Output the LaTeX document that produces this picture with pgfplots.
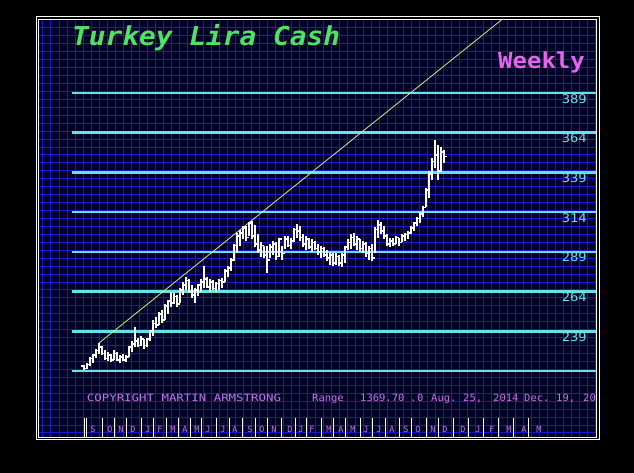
\documentclass[border=0pt]{standalone}
\usepackage{pgfplots}
\pgfplotsset{compat=1.18}
\usepackage{pgfplotstable}
\usepackage{fontspec}
\newfontfamily\mono{DejaVu Sans Mono}

\definecolor{navybg}{RGB}{0,0,40}
\definecolor{gridblue}{RGB}{24,24,210}
\definecolor{lcyan}{RGB}{100,226,232}
\definecolor{tgreen}{RGB}{80,226,100}
\definecolor{wmag}{RGB}{232,100,240}
\definecolor{cmag}{RGB}{200,112,232}
\definecolor{diag}{RGB}{200,240,140}

% weekly bars: x position, low, high, open, close
\pgfplotstableread{
x lo hi op cl
84 214.5 218 217 215.5
87 215 219 215.5 218
90 217 223 218 222
93 219 225 222 224
96 222 228 224 227
99 225 231.5 227 229
102 224 230 229 225
105 221 227 225 222
108 220 226 222 224
111 219.5 225 224 221
114 221 227 221 225
117 220 226 225 221
120 219 224 221 223
123 220 225 223 221
126 219.5 224 221 223
129 223 230 223 229
132 226 233 229 231
135 229 241.7 231 233
138 229 235 233 230
141 230 236 230 234
144 228 234 234 230
147 229 235 230 234
150 233 240 234 239
153 236 246 239 244
156 241 248 244 243
159 243 251 243 250
162 244 252.5 250 246
165 246 256 246 255
168 250 259 255 258
171 254 264 258 257
174 256 263 257 261
177 254 262 261 256
180 257 266 256 265
183 262 270 265 268
186 265 273 268 271
189 263 272 271 264
192 260 268 264 262
195 256.8 266 262 265
198 261 269 265 268
201 264 272 268 270
204 266 280 270 272
207 266 273 272 267
210 264 272 267 270
213 265 271 270 266
216 264 270 266 269
219 265 272 269 271
222 266 272.5 271 270
225 270 278 270 277
228 273 280 277 279
231 277 285 279 284
234 283 294 284 293
237 288 301 293 299
240 293 303 299 301
243 297 305 301 304
246 296 305 304 298
249 299 308 298 307
252 297 308.5 307 299
255 292 306 299 294
258 288 300 294 290
261 286 295 290 293
264 285 293 293 287
267 276 293 287 284
270 285 294 284 292
273 287 296 292 294
276 284 295 294 286
279 286 298 286 297
282 284 293 297 288
285 291 299 288 297
288 292 299 297 293
291 291 298 293 296
294 295 304 296 303
297 298 306.5 303 302
300 296 305 302 298
303 292 300 298 294
306 290 299 294 297
309 291 298 297 292
312 289 297 292 295
315 290 296 295 291
318 287 294 291 289
321 285 293 289 291
324 286 292 291 287
327 283 290 287 285
330 281 289 285 287
333 280 288 287 282
336 281 288 282 286
339 280 287 286 282
342 279.5 288 282 287
345 282 293 287 292
348 290 297 292 295
351 291 300 295 298
354 293 301 298 294
357 290 299 294 297
360 289 297 297 291
363 288 296 291 294
366 286 295 294 288
369 284 293 288 291
372 283 294 291 285
375 288 304.7 285 303
378 298 309 303 306
381 300 308 306 302
384 297 305 302 299
387 293 300 299 294
390 292 298 294 296
393 293 298 296 294
396 294 299 294 298
399 293 298 298 295
402 295 300 295 299
405 296 301 299 300
408 297 302 300 301
411 300 305 301 304
414 302 308 304 307
417 305 311 307 310
420 307 314 310 313
423 311 318 313 317
426 317 329 317 328
429 323 340 328 338
432 334 348 338 346
435 342 359.4 346 350
438 334 356 350 340
441 339 355 340 352
444 345 353 352 349
}\bars

\begin{document}
\begin{tikzpicture}
\begin{scope}[x=1pt,y=-1pt]
  \fill[black] (0,0) rectangle (634,473);
\end{scope}

\begin{axis}[
  at={(39pt,-437pt)}, anchor=south west,
  scale only axis, width=557pt, height=417.5pt,
  xmin=39, xmax=596, ymin=172.46, ymax=435.27,
  axis background/.style={fill=navybg},
  axis line style={draw=none},
  xtick={43,51,...,595}, ytick={175,180,...,435},
  xticklabel={}, yticklabel={},
  major tick length=0pt,
  grid=major,
  major grid style={gridblue, line width=1pt},
]
% level lines
\addplot[lcyan, line width=2.5pt] coordinates {(72,389) (596,389)};
\addplot[lcyan, line width=2.5pt] coordinates {(72,364) (596,364)};
\addplot[lcyan, line width=2.5pt] coordinates {(72,339) (596,339)};
\addplot[lcyan, line width=2.5pt] coordinates {(72,314) (596,314)};
\addplot[lcyan, line width=2.5pt] coordinates {(72,289) (596,289)};
\addplot[lcyan, line width=2.5pt] coordinates {(72,264) (596,264)};
\addplot[lcyan, line width=2.5pt] coordinates {(72,239) (596,239)};
\addplot[lcyan, line width=2.5pt] coordinates {(72,214) (596,214)};

% trend line
\addplot[diag, line width=0.8pt] coordinates {(99,231.6) (502,435.3)};

% high-low bars
\addplot[draw=none, mark=none, error bars/.cd, y dir=plus, y explicit,
  error mark=none, error bar style={draw=white, line width=2.3pt}]
  table[x=x, y=lo, y error expr=\thisrow{hi}-\thisrow{lo}] {\bars};
% open ticks
\addplot[draw=none, mark=none, error bars/.cd, x dir=minus, x fixed=2.6,
  error mark=none, error bar style={draw=white, line width=1.6pt}]
  table[x=x, y=op] {\bars};
% close ticks
\addplot[draw=none, mark=none, error bars/.cd, x dir=plus, x fixed=2.6,
  error mark=none, error bar style={draw=white, line width=1.6pt}]
  table[x=x, y=cl] {\bars};

\foreach \v in {389,364,339,314,289,264,239}{
  \edef\temp{\noexpand\node[anchor=base east, text=lcyan, inner sep=0pt,
    font=\noexpand\mono\noexpand\fontsize{12}{12}\noexpand\selectfont, yshift=-10pt]
    at (axis cs:587,\v) {\noexpand\scalebox{1.15}[1]{\v}};}
  \temp
}
\end{axis}

\begin{scope}[x=1pt,y=-1pt]
  \draw[white, line width=1pt] (36,17) rectangle (599,439);
  \draw[white, line width=1pt] (38.5,19.5) rectangle (596.5,437);

  \node[anchor=base west, inner sep=0pt, text=tgreen,
    font=\mono\bfseries\itshape\fontsize{26}{26}\selectfont]
    at (72,46) {\scalebox{1.07}[1]{Turkey Lira Cash}};
  \node[anchor=base west, inner sep=0pt, text=wmag,
    font=\mono\bfseries\fontsize{22}{22}\selectfont]
    at (498,69) {\scalebox{1.09}[1]{Weekly}};

  \node[anchor=base west, inner sep=0pt, text=cmag,
    font=\mono\fontsize{10}{10}\selectfont]
    at (86.7,401) {\scalebox{1.24}[1]{COPYRIGHT MARTIN ARMSTRONG}};
  \foreach \x/\t in {312/Range,360/1369.70,410/.,417/0,431/Aug.,463/{25,},493/2014,524/Dec.,556/{19,},583/20}
    \node[anchor=base west, inner sep=0pt, text=cmag,
      font=\mono\fontsize{10}{10}\selectfont] at (\x,401) {\scalebox{1.05}[1]{\t}};

  \foreach \x in {84.3,86.7,102.7,114.3,126,141.7,153.3,166,178.3,190,201.7,216.7,229.3,242.7,255,267.7,281.7,295,306.7,321.7,333.3,345.7,360.7,372.7,385,399.3,411.7,426.7,438.3,453.3,468.3,483.3,498.3,513.3,528.3}
    \draw[white, line width=0.8pt] (\x,418) -- (\x,437);

  \foreach \x/\t in {91/S,108/O,119/N,131/D,146/J,158/F,171/M,183/A,195/M,206/J,221/J,233/A,248/S,260/O,272/N,288/D,299/J,310/F,327/M,339/A,351/M,364/J,377/J,390/A,404/S,416/O,431/N,443/D,461/D,476/J,490/F,507/M,522/A,537/M}
    \node[anchor=base, inner sep=0pt, text=cmag,
      font=\mono\fontsize{8.5}{8.5}\selectfont] at (\x+2,432.5) {\t};
\end{scope}
\end{tikzpicture}
\end{document}
